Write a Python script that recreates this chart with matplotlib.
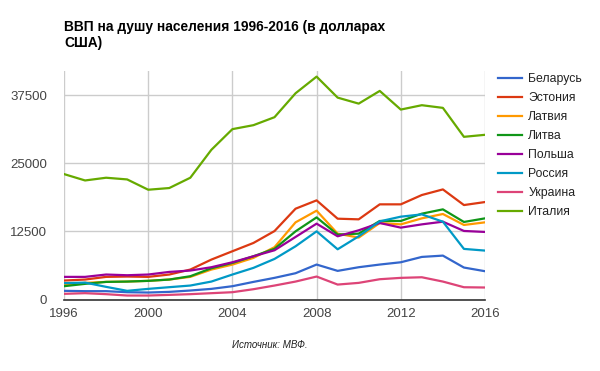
import matplotlib

matplotlib.use("Agg")
import matplotlib.pyplot as plt

plt.rcParams["font.family"] = ["Liberation Sans", "DejaVu Sans"]

years = list(range(1996, 2017))

belarus = [1590, 1530, 1530, 1340, 1280, 1400, 1650, 1950, 2440, 3230, 3970,
           4820, 6410, 5250, 5920, 6410, 6830, 7810, 8050, 5860, 5190]
estonia = [3480, 3660, 4150, 4210, 4150, 4580, 5490, 7320, 8850, 10370, 12550,
           16650, 18180, 14820, 14700, 17450, 17450, 19160, 20190, 17320, 17870]
latvia = [2620, 3050, 3230, 3290, 3420, 3660, 4150, 5490, 6400, 7630, 9600,
          14150, 16290, 12080, 11350, 14030, 13780, 14880, 15680, 13670, 14150]
lithuania = [2440, 2870, 3230, 3290, 3420, 3660, 4270, 5730, 6710, 7930, 9300,
             12500, 15060, 11900, 12080, 14400, 14400, 15740, 16530, 14220, 14880]
poland = [4150, 4150, 4580, 4450, 4580, 5060, 5310, 5920, 6830, 7930, 9030,
          11470, 13910, 11590, 12690, 14030, 13180, 13780, 14270, 12570, 12390]
russia = [3000, 3100, 2320, 1590, 1950, 2260, 2560, 3290, 4580, 5800, 7440,
          9760, 12500, 9210, 11590, 14330, 15190, 15610, 14270, 9280, 8970]
ukraine = [1040, 1160, 980, 730, 730, 850, 980, 1160, 1340, 1890, 2560,
           3290, 4210, 2740, 3050, 3720, 3970, 4080, 3290, 2250, 2200]
italy = [23000, 21830, 22330, 22020, 20130, 20440, 22330, 27450, 31240, 31970, 33430,
         37820, 40870, 37020, 35920, 38250, 34830, 35630, 35140, 29830, 30200]

series = [
    ("Беларусь", belarus, "#3366cc"),
    ("Эстония", estonia, "#dc3912"),
    ("Латвия", latvia, "#ff9900"),
    ("Литва", lithuania, "#109618"),
    ("Польша", poland, "#990099"),
    ("Россия", russia, "#0099c6"),
    ("Украина", ukraine, "#dd4477"),
    ("Италия", italy, "#66aa00"),
]

x_ticks = [1996, 2000, 2004, 2008, 2012, 2016]
y_ticks = [0, 12500, 25000, 37500]

fig = plt.figure(figsize=(6.0, 3.71), dpi=100)
ax = fig.add_axes([0.1067, 0.1927, 0.7016, 0.6159])

for name, values, color in series:
    ax.plot(years, values, color=color, linewidth=1.6, label=name,
            solid_joinstyle="round", zorder=3)

ax.set_xlim(1996, 2016)
ax.set_ylim(0, 41900)
ax.set_xticks(x_ticks)
ax.set_yticks(y_ticks)
ax.set_xticklabels([str(t) for t in x_ticks])
ax.set_yticklabels([str(t) for t in y_ticks])
ax.grid(True, color="#cccccc", linewidth=1.0, zorder=0)
ax.tick_params(length=0, labelsize=9.5, labelcolor="#444444", pad=6)
ax.tick_params(axis="y", pad=12)
for side in ["top", "right", "left"]:
    ax.spines[side].set_visible(False)
ax.spines["bottom"].set_color("#333333")
ax.spines["bottom"].set_linewidth(1.2)
ax.spines["bottom"].set_zorder(4)

leg = ax.legend(loc="upper left", bbox_to_anchor=(1.02, 1.013), frameon=False,
                fontsize=8.8, handlelength=1.97, handletextpad=0.49,
                labelspacing=0.575, borderaxespad=0.0)
for txt in leg.get_texts():
    txt.set_color("#222222")

fig.text(0.1067, 0.945, "ВВП на душу населения 1996-2016 (в долларах\nСША)",
         fontsize=9.9, fontweight="bold", va="top", ha="left",
         linespacing=1.12, color="#000000")
fig.text(0.45, 0.07, "Источник: МВФ.", fontsize=7, style="italic",
         ha="center", va="center", color="#222222")

fig.savefig("out.png", dpi=100)
